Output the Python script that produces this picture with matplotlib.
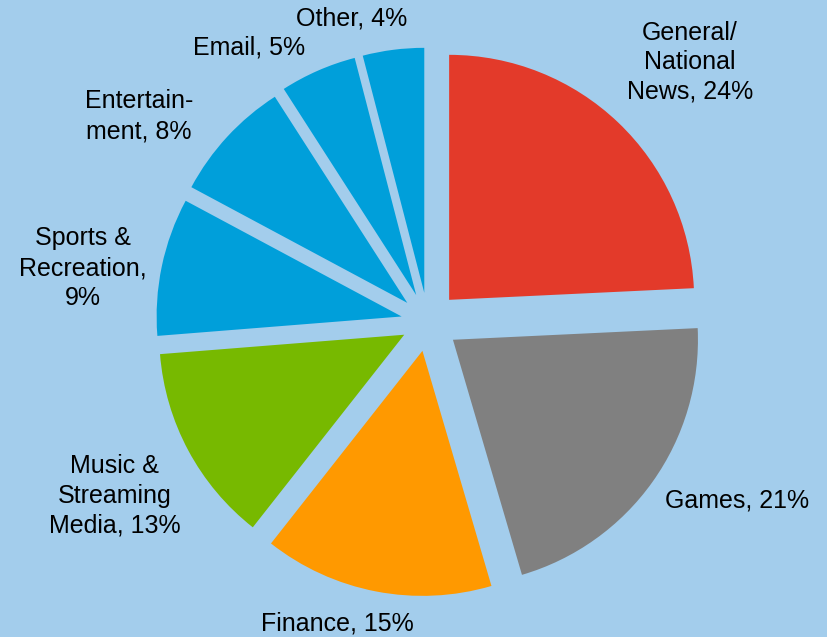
import matplotlib.pyplot as plt

# category shares (percent) as printed on the chart
categories = ["General/\nNational\nNews", "Games", "Finance", "Music &\nStreaming\nMedia",
              "Sports &\nRecreation,\n", "Entertain-\nment", "Email", "Other"]
shares = [24, 21, 15, 13, 9, 8, 5, 4]
colors = ["#E33A2A", "#808080", "#FF9900", "#77B900",
          "#009FDA", "#009FDA", "#009FDA", "#009FDA"]

# label text centres (data units, pie radius = 1)
label_xy = [(1.07, 1.06), (1.26, -0.73), (-0.37, -1.23), (-1.28, -0.71),
            (-1.41, 0.22), (-1.18, 0.84), (-0.73, 1.12), (-0.31, 1.24)]

bg = "#A3CDEC"
plt.rcParams['font.family'] = ['Liberation Sans', 'DejaVu Sans']

fig = plt.figure(figsize=(8.28, 6.37), dpi=100, facecolor=bg)
ax = fig.add_axes([0, 0, 1, 1])
ax.set_facecolor(bg)

wedges, _ = ax.pie(shares, colors=colors, startangle=90, counterclock=False,
                   explode=[0.125, 0.125, 0.12, 0.11, 0.11, 0.115, 0.12, 0.12],
                   radius=1.0, wedgeprops=dict(linewidth=0))

for name, val, (x, y) in zip(categories, shares, label_xy):
    if name.endswith(",\n"):
        txt = name + "%d%%" % val
    else:
        txt = name + ", %d%%" % val
    ax.text(x, y, txt, ha="center", va="center", fontsize=18,
            linespacing=1.3, color="black")

ax.set_xlim(-428 / 245, 400 / 245)
ax.set_ylim(-(637 - 322) / 245, 322 / 245)
ax.set_aspect("auto")
ax.axis("off")

fig.savefig("out.png", dpi=100, facecolor=bg)
